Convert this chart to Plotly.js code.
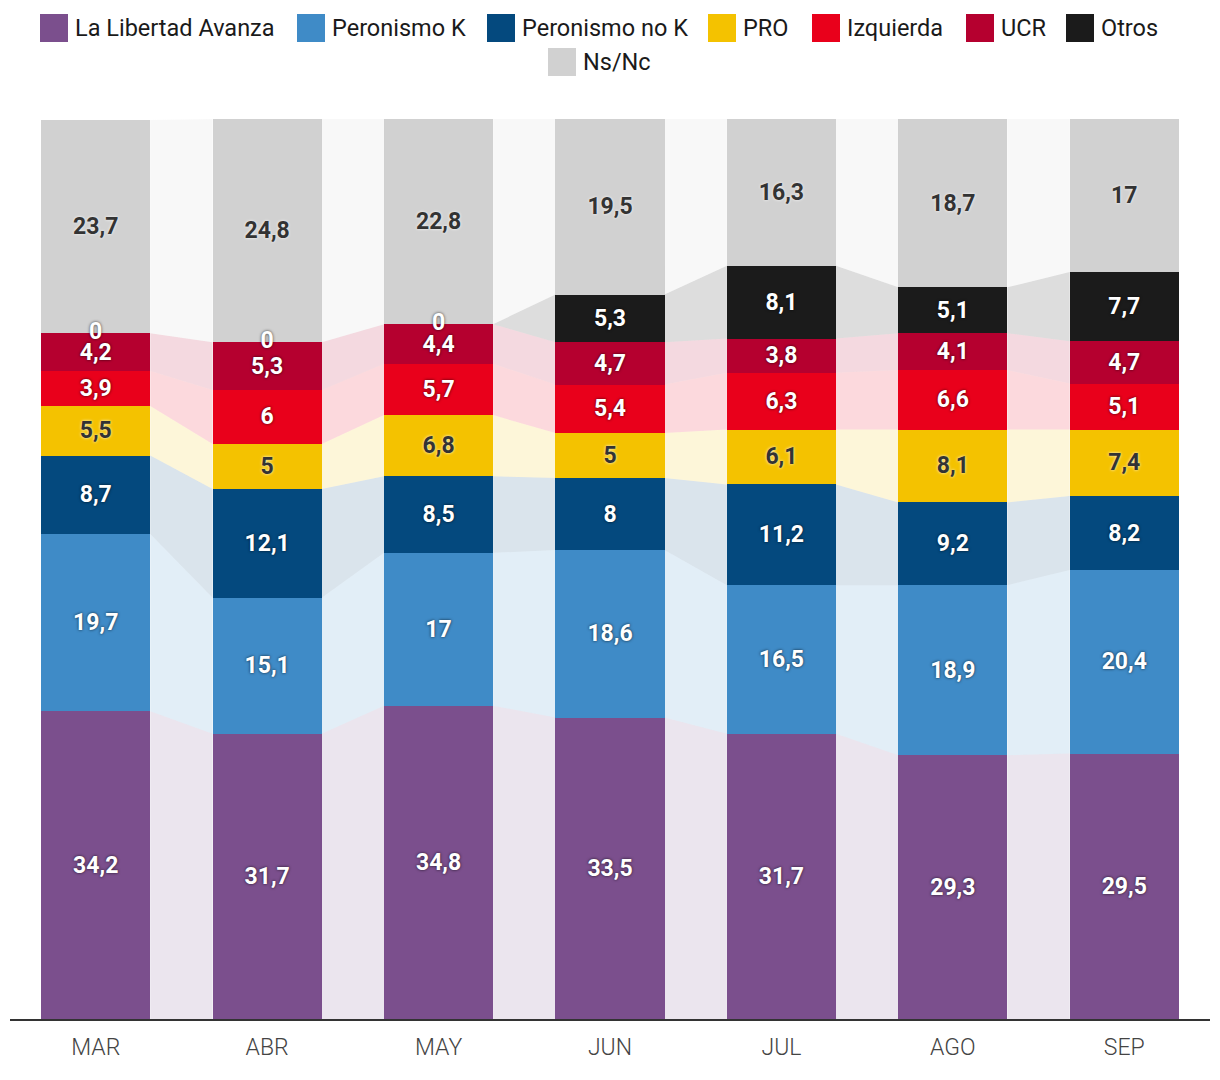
<!DOCTYPE html>
<html>
<head>
<meta charset="utf-8">
<script src="https://cdn.plot.ly/plotly-3.0.1.min.js"></script>
<style>
  html, body { margin: 0; padding: 0; background: #fff; }
  #chart { width: 1220px; height: 1080px; }
</style>
</head>
<body>
<div id="chart"></div>
<script>
// ---- data ----
const months = ['MAR', 'ABR', 'MAY', 'JUN', 'JUL', 'AGO', 'SEP'];
const seriesNames = ['La Libertad Avanza', 'Peronismo K', 'Peronismo no K', 'PRO', 'Izquierda', 'UCR', 'Otros', 'Ns/Nc'];
const libertadAvanza = [34.2, 31.7, 34.8, 33.5, 31.7, 29.3, 29.5];
const peronismoK     = [19.7, 15.1, 17, 18.6, 16.5, 18.9, 20.4];
const peronismoNoK   = [8.7, 12.1, 8.5, 8, 11.2, 9.2, 8.2];
const pro            = [5.5, 5, 6.8, 5, 6.1, 8.1, 7.4];
const izquierda      = [3.9, 6, 5.7, 5.4, 6.3, 6.6, 5.1];
const ucr            = [4.2, 5.3, 4.4, 4.7, 3.8, 4.1, 4.7];
const otros          = [0, 0, 0, 5.3, 8.1, 5.1, 7.7];
const nsnc           = [23.7, 24.8, 22.8, 19.5, 16.3, 18.7, 17];

// ---- styles ----
const colors = ['#7b4f8d', '#3f8bc7', '#04497e', '#f4c200', '#e9001b', '#b5002f', '#1b1b1b', '#d1d1d1'];
const bandRGB = ['123,79,141', '63,139,199', '4,73,126', '244,194,0', '233,0,27', '181,0,47', '27,27,27', '209,209,209'];
const darkText = [false, false, false, true, false, false, false, true];
const values = [libertadAvanza, peronismoK, peronismoNoK, pro, izquierda, ucr, otros, nsnc];

const BAR_W = 0.636;
const HW = BAR_W / 2;
const xs = months.map((_, i) => i);
const fmt = v => String(v).replace('.', ',');

const LABEL_FONT = 'Roboto, "Noto Sans", sans-serif';
function labelFont(dark) {
  return {
    family: LABEL_FONT, size: 23, weight: 700,
    color: dark ? '#333333' : '#ffffff',
    shadow: dark ? '0px 0px 3px rgba(255,255,255,0.95)' : '0px 0px 3px rgba(0,0,0,0.75)'
  };
}

// cumulative bases
const bases = [];
let run = months.map(() => 0);
values.forEach(v => { bases.push(run.slice()); run = run.map((r, i) => r + v[i]); });

const traces = [];

// connecting bands between bars
values.forEach((v, s) => {
  for (let i = 0; i < months.length - 1; i++) {
    const b0 = bases[s][i], b1 = bases[s][i + 1];
    traces.push({
      type: 'scatter', mode: 'lines',
      x: [i + HW, i + 1 - HW, i + 1 - HW, i + HW, i + HW],
      y: [b0, b1, b1 + v[i + 1], b0 + v[i], b0],
      fill: 'toself', fillcolor: 'rgba(' + bandRGB[s] + ',0.15)',
      line: { width: 0, color: 'rgba(0,0,0,0)' },
      hoverinfo: 'skip', showlegend: false
    });
  }
});

// stacked bars
values.forEach((v, s) => {
  traces.push({
    type: 'bar', name: seriesNames[s],
    x: xs, y: v, width: BAR_W,
    marker: { color: colors[s], line: { width: 0 } },
    text: v.map(val => val === 0 ? '' : fmt(val)),
    textposition: 'inside', insidetextanchor: 'middle', textangle: 0,
    constraintext: 'none',
    insidetextfont: labelFont(darkText[s]),
    hoverinfo: 'name+y', showlegend: false
  });
});

// labels for zero-height segments
values.forEach((v, s) => {
  const zx = [], zy = [], zt = [];
  v.forEach((val, i) => { if (val === 0) { zx.push(i); zy.push(bases[s][i]); zt.push(fmt(val)); } });
  if (zx.length) {
    traces.push({
      type: 'scatter', mode: 'text', x: zx, y: zy, text: zt,
      textposition: 'middle center', textfont: labelFont(darkText[s]),
      hoverinfo: 'skip', showlegend: false
    });
  }
});

// ---- custom legend (layout items in paper coords) ----
const PLOT_L = 10, PLOT_W = 1200, PLOT_B = 1019, PLOT_H = 900;
const px2x = p => (p - PLOT_L) / PLOT_W;
const px2y = p => (PLOT_B - p) / PLOT_H;
const legendItems = [
  { sw: 40, row: 0 }, { sw: 297, row: 0 }, { sw: 487, row: 0 }, { sw: 708, row: 0 },
  { sw: 812, row: 0 }, { sw: 966, row: 0 }, { sw: 1066, row: 0 }, { sw: 548, row: 1 }
];
const rowTop = [14, 48];
const shapes = [], annotations = [];
legendItems.forEach((it, s) => {
  const top = rowTop[it.row];
  shapes.push({
    type: 'rect', xref: 'paper', yref: 'paper',
    x0: px2x(it.sw), x1: px2x(it.sw + 28), y0: px2y(top + 28), y1: px2y(top),
    fillcolor: colors[s], line: { width: 0 }
  });
  annotations.push({
    xref: 'paper', yref: 'paper', x: px2x(it.sw + 33), y: px2y(top + 14),
    xanchor: 'left', yanchor: 'middle', showarrow: false,
    text: seriesNames[s],
    font: { family: 'Roboto, sans-serif', size: 23.5, color: '#1a1a1a' }
  });
});

const layout = {
  width: 1220, height: 1080,
  margin: { l: PLOT_L, r: 10, t: 119, b: 61 },
  paper_bgcolor: '#ffffff', plot_bgcolor: '#ffffff',
  barmode: 'stack',
  showlegend: false,
  separators: ',.',
  xaxis: {
    range: [-0.5, 6.5], tickvals: xs, ticktext: months,
    showgrid: false, zeroline: false, ticks: '',
    showline: true, linecolor: '#333333', linewidth: 2,
    tickfont: { family: 'Roboto, sans-serif', size: 23, weight: 300, color: '#444444' },
    ticklabelstandoff: 6, fixedrange: true
  },
  yaxis: {
    range: [0, 100], visible: false, showgrid: false, zeroline: false, fixedrange: true
  },
  shapes: shapes,
  annotations: annotations
};

Plotly.newPlot('chart', traces, layout, { displayModeBar: false, staticPlot: true });
</script>
</body>
</html>
